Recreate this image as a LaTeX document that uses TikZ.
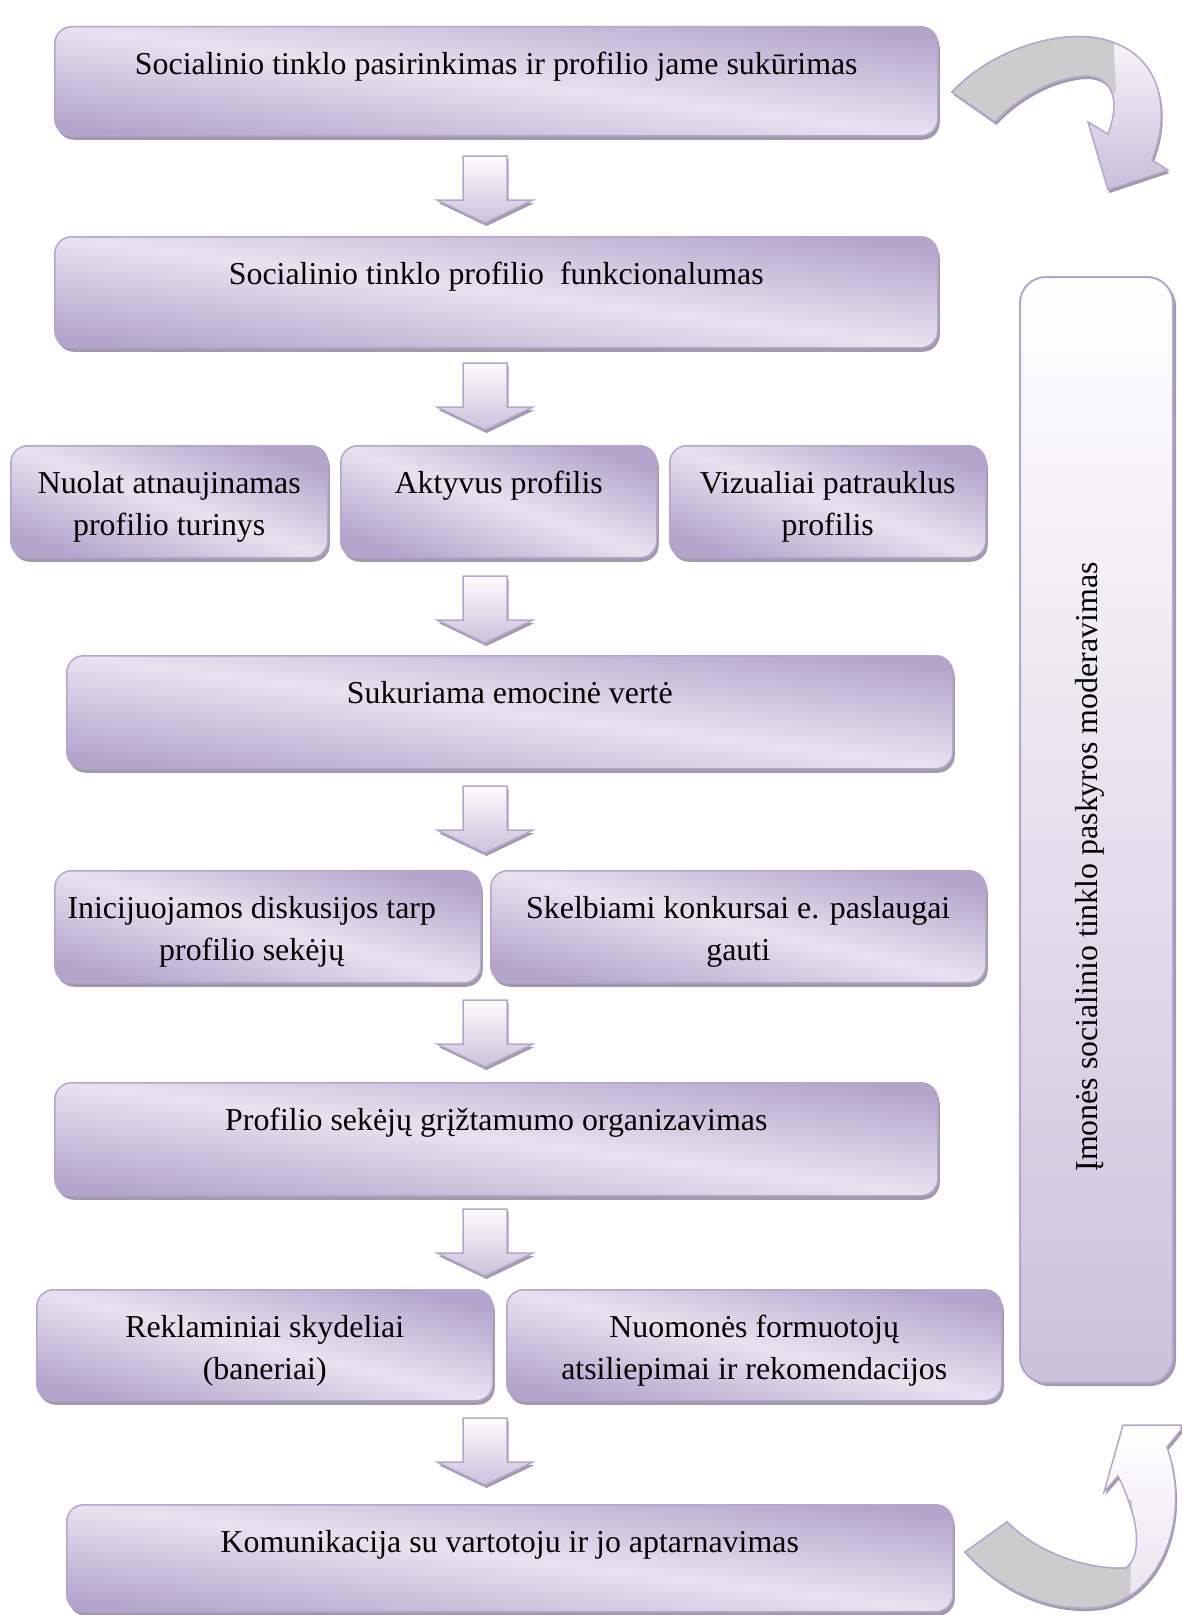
\documentclass[tikz,border=0pt]{standalone}
\usepackage{fontspec}
\setmainfont{Liberation Serif}
\usetikzlibrary{shadows}

\definecolor{lavlight}{RGB}{232,226,239}
\definecolor{lavdark}{RGB}{180,164,204}
\definecolor{lavline}{RGB}{180,166,206}
\definecolor{lavpale}{RGB}{204,193,219}
\definecolor{lavshadow}{RGB}{160,154,170}
\definecolor{tailgray}{RGB}{204,204,204}

\begin{document}
\begin{tikzpicture}[x=1bp,y=-1bp,
		box/.style={draw=lavline, line width=1.5bp, rounded corners=17bp, anchor=north west, inner sep=0pt,
			top color=lavdark, bottom color=lavdark, middle color=lavlight,
			drop shadow={shadow xshift=2bp, shadow yshift=-4bp, fill=lavshadow, opacity=1}},
		sidebox/.style={draw=lavline, line width=2bp, rounded corners=26bp, anchor=north west, inner sep=0pt,
			top color=white, bottom color=lavpale,
			drop shadow={shadow xshift=3bp, shadow yshift=-3bp, fill=lavshadow, opacity=1}},
		txt/.style={font=\fontsize{32}{42}\selectfont, align=center, anchor=north, inner sep=0pt},
		blockarrow/.style={draw=lavline, line width=1.5bp, top color=white!90!lavlight, bottom color=lavpale,
			drop shadow={shadow xshift=1.5bp, shadow yshift=-3bp, fill=lavshadow, opacity=1}},
		hollow/.pic={\path[blockarrow] (-22,0) -- (22,0) -- (22,44) -- (48,44) -- (0,67) -- (-48,44) -- (-22,44) -- cycle;}
	]
	\useasboundingbox (0,0) rectangle (1181,1615);

	% steps: name / left / top / right / bottom / text shift / text
	\foreach \nm/\xa/\ya/\xb/\yb/\dx/\txt in {
		b1/54/26/937/135/0/{Socialinio tinklo pasirinkimas ir profilio jame sukūrimas},
		b2/54/236/937/347/0/{Socialinio tinklo profilio~ funkcionalumas},
		b3a/10/445/327/557/0/{Nuolat atnaujinamas\\profilio turinys},
		b3b/340/445/656/557/0/{Aktyvus profilis},
		b3c/669/445/985/557/0/{Vizualiai patrauklus\\profilis},
		b4/66/655/952/768/0/{Sukuriama emocinė vertė},
		b5a/54/870/480/982/-16/{Inicijuojamos diskusijos tarp\\profilio sekėjų},
		b5b/490/870/985/982/0/{Skelbiami konkursai e. paslaugai\\gauti},
		b6/54/1082/937/1195/0/{Profilio sekėjų grįžtamumo organizavimas},
		b7a/36/1289/492/1400/0/{Reklaminiai skydeliai\\(baneriai)},
		b7b/506/1289/1001/1400/0/{Nuomonės formuotojų\\atsiliepimai ir rekomendacijos},
		b8/66/1504/952/1611/0/{Komunikacija su vartotoju ir jo aptarnavimas}}{
		% light band along the diagonal of each box
		\pgfmathsetmacro\ang{-atan((\yb-\ya)/(\xb-\xa))}
		\node[box, shading angle=\ang, minimum width={(\xb-\xa)*1bp}, minimum height={(\yb-\ya)*1bp}] (\nm) at (\xa,\ya) {};
		\node[txt] (\nm-t) at ([xshift=\dx bp, yshift=-26bp]\nm.north) {\txt};
	}

	% arrows between the steps
	\foreach \y in {156,363,576,786,1000,1209,1418}{
		\pic (down\y) at (485,\y) {hollow};
	}

	% moderation column
	\node[sidebox, minimum width=153bp, minimum height=1106bp] (side) at (1019,276) {};
	\node[txt, anchor=center, rotate=90] (side-t) at (1090,867) {Įmonės socialinio tinklo paskyros moderavimas};

	% curved arrow, top
	\path[blockarrow, top color=white!80!lavlight, bottom color=lavpale!90!lavdark]
		(952,92) .. controls (995,46) and (1070,26) .. (1112,42)
		.. controls (1160,58) and (1172,110) .. (1152,160)
		-- (1168,170) -- (1108,190) -- (1088,122) -- (1108,134)
		.. controls (1122,97) and (1110,76) .. (1085,76)
		.. controls (1050,78) and (1015,100) .. (995,122) -- cycle;
	\begin{scope}
		\clip (940,10) -- (1112,10) -- (1116,92) -- (940,140) -- cycle;
		\fill[tailgray, draw=lavline, line width=1.5bp]
			(952,92) .. controls (995,46) and (1070,26) .. (1112,42)
			.. controls (1160,58) and (1172,110) .. (1152,160)
			-- (1168,170) -- (1108,190) -- (1088,122) -- (1108,134)
			.. controls (1122,97) and (1110,76) .. (1085,76)
			.. controls (1050,78) and (1015,100) .. (995,122) -- cycle;
	\end{scope}

	% curved arrow, bottom
	\path[blockarrow, top color=white, bottom color=lavlight]
		(965,1552) .. controls (1010,1600) and (1060,1612) .. (1100,1607)
		.. controls (1160,1598) and (1192,1520) .. (1167,1447)
		-- (1181,1430) -- (1181,1425) -- (1123,1425) -- (1104,1492) -- (1118,1476)
		.. controls (1140,1520) and (1142,1556) .. (1126,1568)
		.. controls (1090,1570) and (1040,1555) .. (1007,1522) -- cycle;
	\begin{scope}
		\clip (950,1500) -- (1132,1500) -- (1130,1615) -- (950,1615) -- cycle;
		\fill[tailgray, draw=lavline, line width=1.5bp]
			(965,1552) .. controls (1010,1600) and (1060,1612) .. (1100,1607)
			.. controls (1160,1598) and (1192,1520) .. (1167,1447)
			-- (1181,1430) -- (1181,1425) -- (1123,1425) -- (1104,1492) -- (1118,1476)
			.. controls (1140,1520) and (1142,1556) .. (1126,1568)
			.. controls (1090,1570) and (1040,1555) .. (1007,1522) -- cycle;
	\end{scope}
\end{tikzpicture}
\end{document}
